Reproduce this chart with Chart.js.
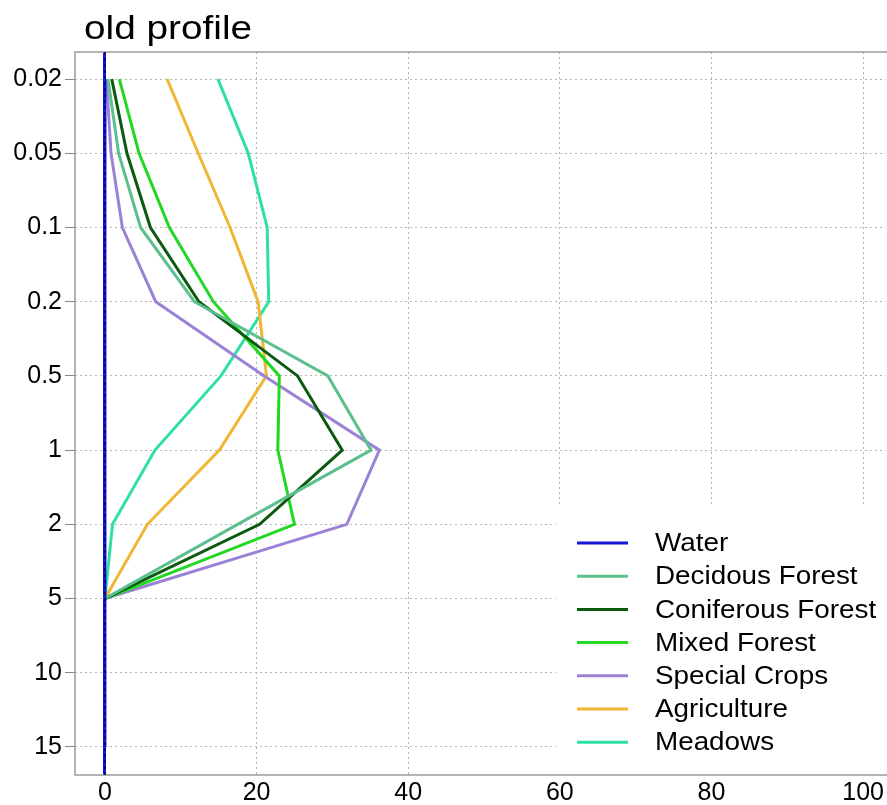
<!DOCTYPE html>
<html>
<head>
<meta charset="utf-8">
<title>old profile</title>
<script src="https://cdn.jsdelivr.net/npm/chart.js@4.4.0/dist/chart.umd.min.js"></script>
<style>
html,body{margin:0;padding:0;background:#fff;}
#wrap{width:887px;height:805px;position:relative;}
</style>
</head>
<body>
<div id="wrap"><canvas id="profileChart"></canvas></div>
<script>
// depth classes, top to bottom
const depthLabels = ['0.02','0.05','0.1','0.2','0.5','1','2','5','10','15'];
const xTicks = [0, 20, 40, 60, 80, 100];

// share per depth
const water        = [0, 0, 0, 0, 0, 0, 0, 0, 0, 0];
const decidous     = [0.4, 1.8, 4.7, 11.8, 29.4, 35.1, 17.5, 0];
const coniferous   = [0.9, 2.9, 6.0, 12.4, 25.4, 31.3, 20.4, 0];
const mixedForest  = [1.9, 4.5, 8.5, 14.3, 23.0, 22.8, 25.0, 0];
const specialCrops = [0.2, 0.8, 2.3, 6.7, 21.0, 36.2, 31.9, 0];
const agriculture  = [8.2, 12.3, 16.5, 20.2, 21.3, 15.1, 5.6, 0];
const meadows      = [14.9, 18.9, 21.4, 21.6, 15.3, 6.6, 1.0, 0];

const seriesNames  = ['Water','Decidous Forest','Coniferous Forest','Mixed Forest','Special Crops','Agriculture','Meadows'];
const seriesValues = [water, decidous, coniferous, mixedForest, specialCrops, agriculture, meadows];
const seriesColors = ['#1515d8','#5cbf8e','#0b5a10','#22d822','#9b82d6','#f0b634','#2fe0a6'];

const fontFamily = "'Liberation Sans', Arial, sans-serif";

const profileExtras = {
    id: 'profileExtras',
    beforeDatasetsDraw(chart){
        const {ctx, chartArea: a} = chart;
        ctx.save();
        // legend box hides the grid underneath
        ctx.fillStyle = '#fff';
        ctx.fillRect(556, 506, a.right - 556 + 4, a.bottom - 507);
        // frame: top, left, bottom (right side runs off the picture)
        ctx.strokeStyle = '#9a9a9a';
        ctx.lineWidth = 1.5;
        ctx.beginPath();
        ctx.moveTo(a.right + 4, a.top);
        ctx.lineTo(a.left, a.top);
        ctx.lineTo(a.left, a.bottom);
        ctx.lineTo(a.right + 4, a.bottom);
        ctx.stroke();
        ctx.restore();
    },
    afterDatasetsDraw(chart){
        const {ctx, chartArea: a} = chart;
        const x0 = chart.scales.x.getPixelForValue(0);
        ctx.save();
        ctx.strokeStyle = '#00006e';
        ctx.lineWidth = 1.5;
        ctx.setLineDash([3, 3]);
        ctx.beginPath();
        ctx.moveTo(x0, a.top);
        ctx.lineTo(x0, a.bottom);
        ctx.stroke();
        ctx.setLineDash([]);

        // legend
        ctx.textBaseline = 'middle';
        ctx.fillStyle = '#000';
        ctx.font = `26px ${fontFamily}`;
        seriesNames.forEach((name, i) => {
            const y = 543 + i * 33.2;
            ctx.strokeStyle = seriesColors[i];
            ctx.lineWidth = 3;
            ctx.beginPath();
            ctx.moveTo(577, y);
            ctx.lineTo(628, y);
            ctx.stroke();
            ctx.save();
            ctx.translate(655, y + 1);
            ctx.scale(1.07, 1);
            ctx.fillText(name, 0, 0);
            ctx.restore();
        });

        // title
        ctx.textBaseline = 'alphabetic';
        ctx.font = `34px ${fontFamily}`;
        ctx.translate(84, 39);
        ctx.scale(1.14, 1);
        ctx.fillText('old profile', 0, 0);
        ctx.restore();
    }
};

function buildDatasets(){
    return seriesNames.map((name, i) => ({
        label: name,
        data: seriesValues[i].map((v, k) => ({x: v, y: k})),
        borderColor: seriesColors[i],
        backgroundColor: seriesColors[i],
        borderWidth: 3,
        pointRadius: 0,
        fill: false,
        tension: 0
    }));
}

window.addEventListener('DOMContentLoaded', () => {
    new Chart(document.getElementById('profileChart'), {
        type: 'line',
        data: {datasets: buildDatasets()},
        options: {
            responsive: true,
            maintainAspectRatio: false,
            animation: false,
            indexAxis: 'y',
            layout: {padding: {top: 52, left: 0, right: -4, bottom: 0}},
            plugins: {legend: {display: false}, title: {display: false}, tooltip: {enabled: false}},
            scales: {
                x: {
                    type: 'linear',
                    min: -3.95,
                    max: 103,
                    afterBuildTicks: s => { s.ticks = xTicks.map(v => ({value: v})); },
                    afterFit: s => { s.height = 30; },
                    ticks: {font: {family: fontFamily, size: 25}, color: '#000', padding: 3},
                    grid: {
                        drawTicks: false,
                        color: c => (c.tick && c.tick.value === 0) ? '#1515d8' : '#b4b4b4',
                        lineWidth: c => (c.tick && c.tick.value === 0) ? 3 : 1
                    },
                    border: {display: false, dash: c => (c.tick && c.tick.value === 0) ? [] : [2, 3]}
                },
                y: {
                    type: 'linear',
                    reverse: true,
                    min: -0.365,
                    max: 9.378,
                    afterBuildTicks: s => { s.ticks = depthLabels.map((_, i) => ({value: i})); },
                    afterFit: s => { s.width = 75; },
                    ticks: {
                        callback: v => depthLabels[v],
                        font: {family: fontFamily, size: 25},
                        color: '#000',
                        padding: 3,
                        autoSkip: false
                    },
                    grid: {color: '#b4b4b4', lineWidth: 1, tickLength: 10, tickColor: '#888', tickBorderDash: [0]},
                    border: {display: false, dash: [2, 3]}
                }
            }
        },
        plugins: [profileExtras]
    });
});
</script>
</body>
</html>
